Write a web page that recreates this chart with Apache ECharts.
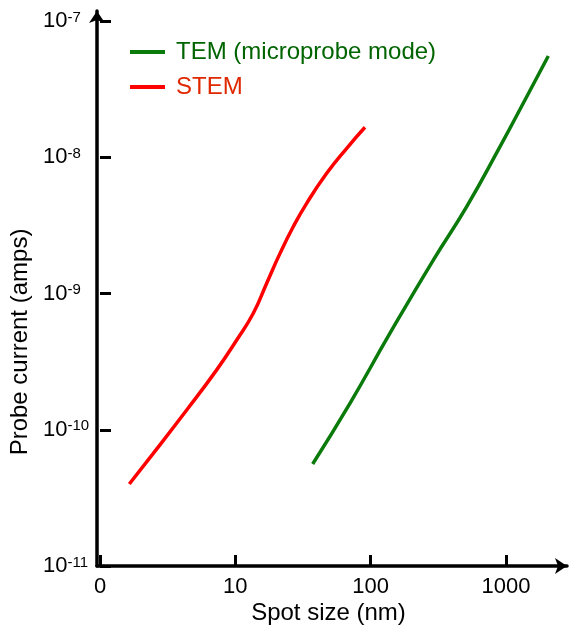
<!DOCTYPE html>
<html>
<head>
<meta charset="utf-8">
<script src="https://cdn.jsdelivr.net/npm/echarts@6/dist/echarts.min.js"></script>
<style>
html,body{margin:0;padding:0;background:#fff;}
#chart{width:576px;height:633px;}
</style>
</head>
<body>
<div id="chart"></div>
<script>
// Data
const seriesNames = ['TEM (microprobe mode)', 'STEM'];
const temX = [38.2, 71.7, 141, 293, 515, 904, 1419, 2044];
const temY = [5.61e-11, 1.563e-10, 5.11e-10, 1.76e-9, 4.34e-9, 1.195e-8, 2.78e-8, 5.53e-8];
const stemX = [1.726, 2.588, 4.55, 7.55, 10.59, 14.01, 17.57, 22.0, 27.5, 34.5, 48.4, 67.9, 92.4];
const stemY = [4.00e-11, 6.71e-11, 1.396e-10, 2.75e-10, 4.56e-10, 7.16e-10, 1.19e-9, 1.97e-9, 3.09e-9, 4.59e-9, 7.62e-9, 1.164e-8, 1.66e-8];
const xTickValues = [1, 10, 100, 1000];
const xTickLabels = ['0', '10', '100', '1000'];
const yTickValues = [1e-11, 1e-10, 1e-9, 1e-8, 1e-7];
const yTickExponents = ['-11', '-10', '-9', '-8', '-7'];

const FONT = '"Liberation Sans", Arial, sans-serif';

function nearestIndex(arr, v) {
  let best = 0, bd = Infinity;
  arr.forEach((a, i) => {
    const d = Math.abs(Math.log10(a) - Math.log10(v));
    if (d < bd) { bd = d; best = i; }
  });
  return bd < 0.01 ? best : -1;
}

const chart = echarts.init(document.getElementById('chart'), null, {renderer: 'canvas'});
chart.setOption({
  animation: false,
  backgroundColor: '#ffffff',
  grid: [
    {left: 97, top: 21, width: 409, height: 545, containLabel: false},
    {left: 97, top: 11, width: 470, height: 555, containLabel: false}
  ],
  legend: {
    orient: 'vertical',
    left: 130,
    top: 40,
    padding: 0,
    itemWidth: 35,
    itemHeight: 14,
    itemGap: 11,
    icon: 'path://M0,6 L35,6 L35,10 L0,10 Z',
    textStyle: {fontFamily: FONT, fontSize: 24, padding: [0, 0, 0, 6]},
    data: [
      {name: seriesNames[0], textStyle: {color: '#006400'}, itemStyle: {color: '#0a7a0a'}},
      {name: seriesNames[1], textStyle: {color: '#e02800'}, itemStyle: {color: '#ff0000'}}
    ]
  },
  xAxis: [
    {
      gridIndex: 0, type: 'log', logBase: 10, min: 1, max: 1000,
      axisLine: {show: false},
      axisTick: {show: true, inside: true, length: 11, lineStyle: {color: '#000', width: 3}},
      splitLine: {show: false},
      axisLabel: {
        margin: 10, fontFamily: FONT, fontSize: 22, color: '#000',
        formatter: function (v) { const i = nearestIndex(xTickValues, v); return i >= 0 ? xTickLabels[i] : ''; }
      }
    },
    {
      gridIndex: 1, type: 'log', logBase: 10, min: 1, max: 2803,
      axisLine: {show: true, symbol: ['none', 'arrow'], symbolSize: [12, 12], lineStyle: {color: '#000', width: 3.5}},
      axisTick: {show: false},
      axisLabel: {show: false},
      splitLine: {show: false},
      name: 'Spot size (nm)',
      nameLocation: 'middle',
      nameGap: 35,
      nameTextStyle: {fontFamily: FONT, fontSize: 24, color: '#000', padding: [0, 7, 0, 0]}
    }
  ],
  yAxis: [
    {
      gridIndex: 0, type: 'log', logBase: 10, min: 1e-11, max: 1e-7,
      axisLine: {show: false},
      axisTick: {show: true, inside: true, length: 11, lineStyle: {color: '#000', width: 3}},
      splitLine: {show: false},
      axisLabel: {
        margin: 57, align: 'left', color: '#000',
        formatter: function (v) {
          const i = nearestIndex(yTickValues, v);
          return i >= 0 ? '{a|10}{b|' + yTickExponents[i] + '}' : '';
        },
        rich: {
          a: {fontFamily: FONT, fontSize: 22, color: '#000'},
          b: {fontFamily: FONT, fontSize: 15, color: '#000', verticalAlign: 'top'}
        }
      },
      name: 'Probe current (amps)',
      nameLocation: 'middle',
      nameRotate: 90,
      nameGap: 68,
      nameTextStyle: {fontFamily: FONT, fontSize: 24, color: '#000', padding: [0, 97, 0, 0]}
    },
    {
      gridIndex: 1, type: 'log', logBase: 10, min: 1e-11, max: 1.184e-7,
      axisLine: {show: true, symbol: ['none', 'arrow'], symbolSize: [12, 12], lineStyle: {color: '#000', width: 3.5}},
      axisTick: {show: false},
      axisLabel: {show: false},
      splitLine: {show: false}
    }
  ],
  series: [
    {
      name: seriesNames[0], type: 'line', xAxisIndex: 1, yAxisIndex: 1,
      data: temX.map((x, i) => [x, temY[i]]),
      smooth: 0.5, symbol: 'none', showSymbol: false,
      lineStyle: {color: '#0a7a0a', width: 3.5}, itemStyle: {color: '#0a7a0a'}
    },
    {
      name: seriesNames[1], type: 'line', xAxisIndex: 1, yAxisIndex: 1,
      data: stemX.map((x, i) => [x, stemY[i]]),
      smooth: 0.5, symbol: 'none', showSymbol: false,
      lineStyle: {color: '#ff0000', width: 3.5}, itemStyle: {color: '#ff0000'}
    }
  ]
});
</script>
</body>
</html>
